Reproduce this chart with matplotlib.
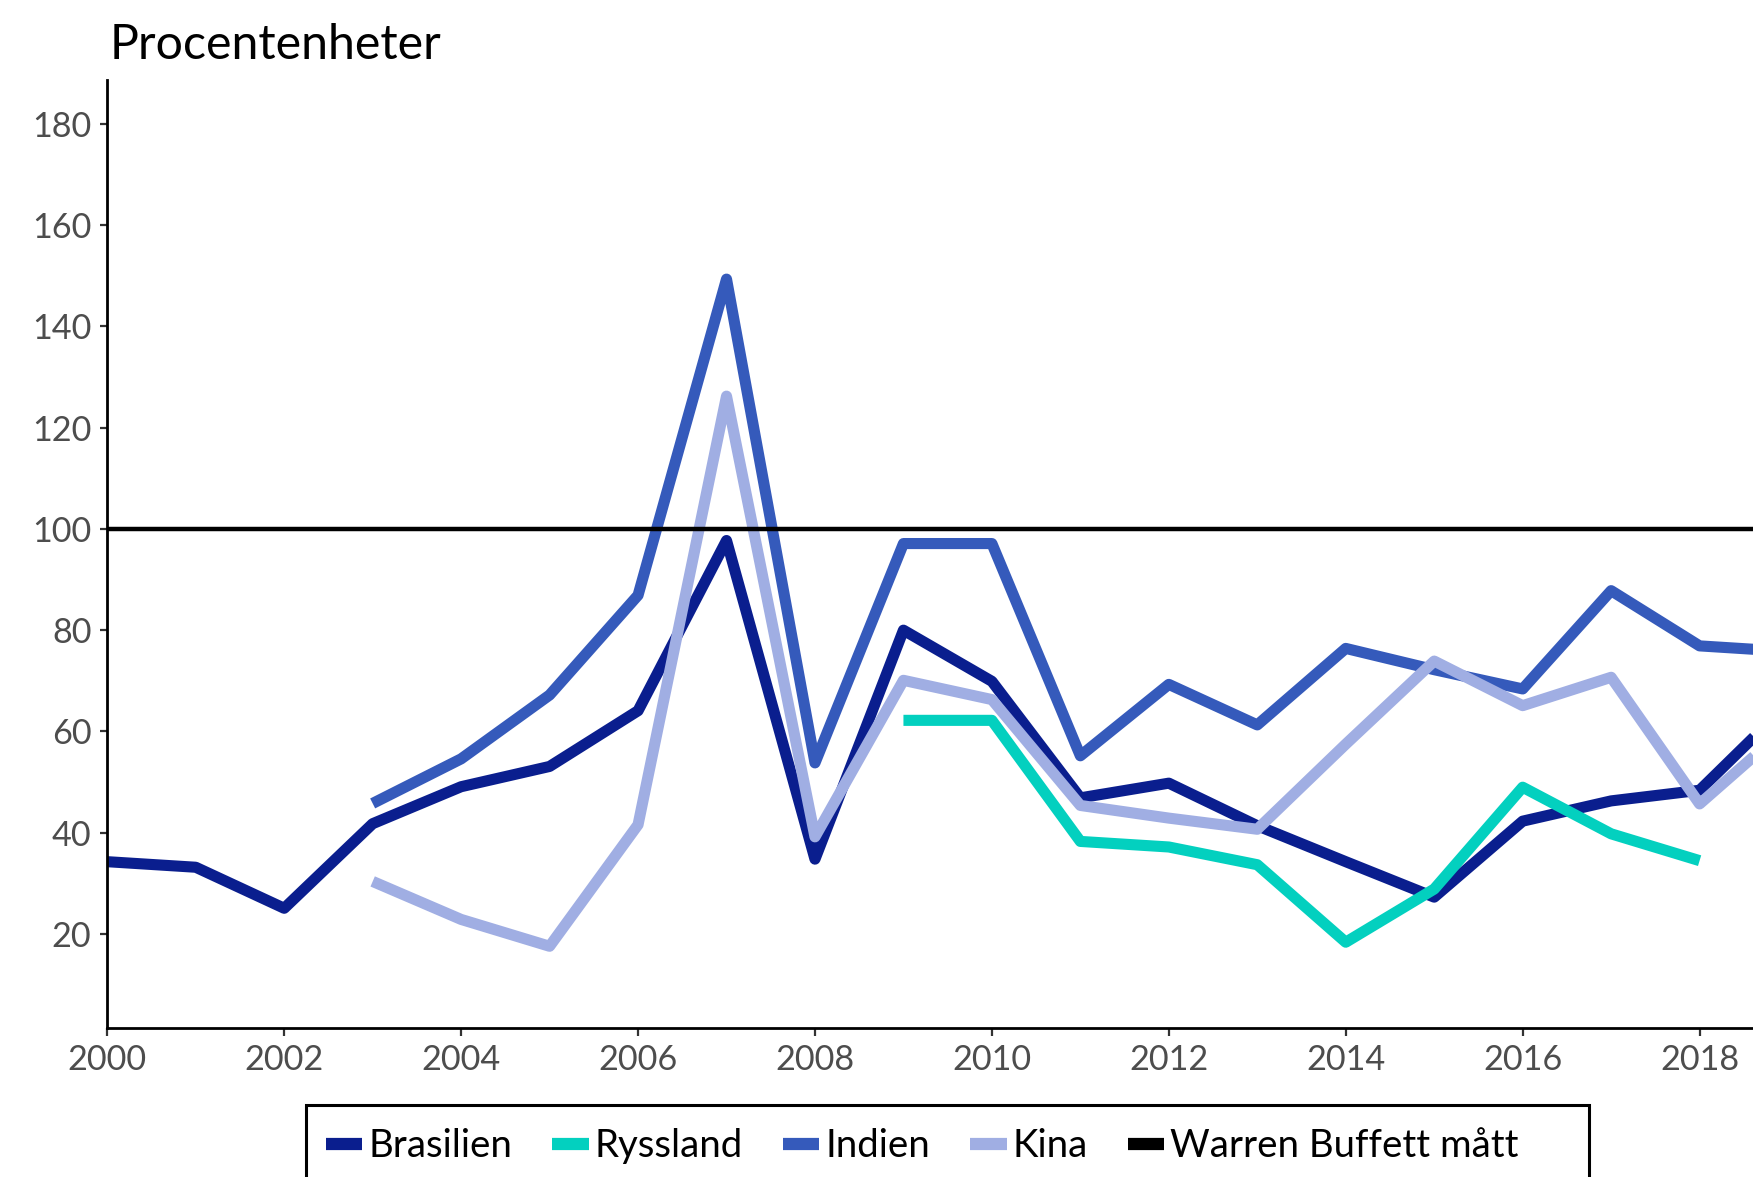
import numpy as np
import matplotlib.pyplot as plt
from matplotlib.patches import Rectangle

plt.rcParams['font.family'] = ['Lato', 'DejaVu Sans']

years = np.arange(2000, 2020)
nan = np.nan

brasilien = [34.3, 33.2, 25.1, 41.8, 49.1, 53.1, 64.1, 97.7, 34.8, 80.0,
             69.9, 46.9, 49.8, 41.4, 34.3, 27.3, 42.3, 46.3, 48.4, 65.5]
ryssland = [nan, nan, nan, nan, nan, nan, nan, nan, nan, 62.2,
            62.2, 38.3, 37.2, 33.7, 18.4, 28.9, 49.0, 39.8, 34.5, nan]
indien = [nan, nan, nan, 45.8, 54.6, 67.2, 86.9, 149.3, 53.8, 97.1,
          97.1, 55.2, 69.3, 61.3, 76.4, 72.2, 68.4, 87.8, 76.9, 75.8]
kina = [nan, nan, nan, 30.4, 22.9, 17.6, 41.6, 126.2, 39.2, 70.1,
        66.3, 45.4, 42.9, 40.7, 57.5, 73.9, 65.1, 70.7, 45.7, 61.0]
buffett = 100

series = [('Brasilien', brasilien, '#0A1E8E'),
          ('Ryssland', ryssland, '#03D0BF'),
          ('Indien', indien, '#355ABB'),
          ('Kina', kina, '#A0AEE3')]

fig = plt.figure(figsize=(8.765, 5.885), dpi=200)
ax = fig.add_axes([0.0612, 0.1263, 0.9588, 0.8057])

lw = 4.0
for name, vals, col in series:
    ax.plot(years, vals, color=col, lw=lw, label=name,
            solid_capstyle='butt', solid_joinstyle='round')
ax.axhline(buffett, color='black', lw=1.6, label='Warren Buffett mått')

ax.set_xlim(2000, 2019)
ax.set_ylim(1.4, 188.6)
ax.set_xticks(np.arange(2000, 2019, 2))
ax.set_yticks(np.arange(20, 181, 20))

for s in ['top', 'right']:
    ax.spines[s].set_visible(False)
for s in ['left', 'bottom']:
    ax.spines[s].set_linewidth(1.0)
    ax.spines[s].set_color('black')
ax.tick_params(length=2.7, width=0.8, color='#333333', labelcolor='#4D4D4D',
               labelsize=12.3, pad=3)

fig.text(0.0625, 0.95, 'Procentenheter', fontsize=17.4, color='black',
         ha='left', va='baseline')

# legend: no own frame, box drawn separately (it runs off the bottom edge)
leg = fig.legend(*ax.get_legend_handles_labels(), loc='center left',
                 bbox_to_anchor=(0.186, 0.026), ncol=5, fontsize=13.8,
                 frameon=False, handlelength=0.95, handletextpad=0.15,
                 columnspacing=1.05, borderpad=0, borderaxespad=0)
for h in leg.get_lines():
    h.set_linewidth(4.4)
    h.set_solid_capstyle('butt')

fig.patches.append(Rectangle((0.1746, -0.05), 0.732, 0.1115, fill=False,
                             edgecolor='black', lw=1.1,
                             transform=fig.transFigure, figure=fig))

fig.savefig('out.png', dpi=200)
